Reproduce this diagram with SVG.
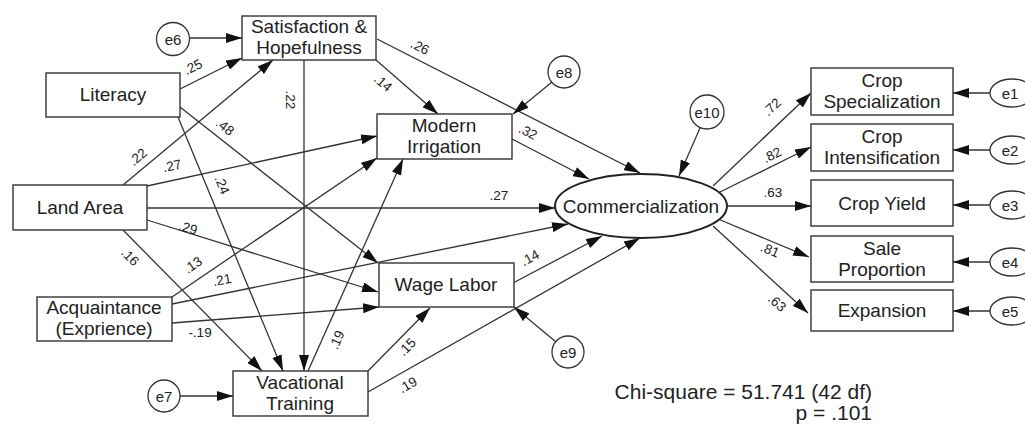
<svg xmlns="http://www.w3.org/2000/svg" width="1025" height="426" viewBox="0 0 1025 426">
<style>
.box{fill:#fff;stroke:#333;stroke-width:1.4}
.t{font-family:"Liberation Sans",Arial,sans-serif;font-size:19px;fill:#222;text-anchor:middle}
.e{fill:#fff;stroke:#333;stroke-width:1.3}
.et{font-family:"Liberation Sans",Arial,sans-serif;font-size:15px;fill:#222;text-anchor:middle;dominant-baseline:central}
#connectors path{fill:none;stroke:#333;stroke-width:1.3;marker-end:url(#a)}
.l{font-family:"Liberation Sans",Arial,sans-serif;font-size:13.5px;fill:#222;text-anchor:middle;dominant-baseline:central}
.fit{font-family:"Liberation Sans",Arial,sans-serif;font-size:21px;fill:#222;text-anchor:end}
</style>
<defs>
<marker id="a" viewBox="0 0 16 10" refX="16" refY="5" markerWidth="16" markerHeight="10" orient="auto" markerUnits="userSpaceOnUse"><path d="M0,0 L16,5 L0,10 z" fill="#111"/></marker>
</defs>
<rect width="1025" height="426" fill="#fff"/>
<g id="connectors">
<path d="M190,38 L242,38"/>
<path d="M180,89 L242,58"/>
<path d="M123,185 L273,60"/>
<path d="M180,107 L378,263"/>
<path d="M178,117 L283,371"/>
<path d="M123,230 L262,371"/>
<path d="M304,60 L304,371"/>
<path d="M147,186 L377,136"/>
<path d="M147,208 L555,208"/>
<path d="M147,220 L378,292"/>
<path d="M172,297 L377,158"/>
<path d="M172,304 L568,224"/>
<path d="M172,323 L379,307"/>
<path d="M308,371 L403,159"/>
<path d="M368,371 L430,308"/>
<path d="M368,392 L640,238"/>
<path d="M513,283 L602,236"/>
<path d="M556,342 L514,307"/>
<path d="M376,60 L438,114"/>
<path d="M377,39 L640,173"/>
<path d="M512,139 L589,179"/>
<path d="M552,82 L513,114"/>
<path d="M700,128 L679,176"/>
<path d="M180,396 L233,396"/>
<path d="M713,186 L811,93"/>
<path d="M718,193 L811,147"/>
<path d="M727,206 L811,206"/>
<path d="M718,219 L809,257"/>
<path d="M713,226 L808,313"/>
<path d="M990,93 L953,93"/>
<path d="M990,150 L953,150"/>
<path d="M990,205 L953,205"/>
<path d="M990,262 L953,262"/>
<path d="M990,311 L953,311"/>
<g id="edge-labels">
<text class="l" transform="translate(193,67) rotate(-27)">.25</text>
<text class="l" transform="translate(138,157) rotate(-40)">.22</text>
<text class="l" transform="translate(225,127) rotate(38)">.48</text>
<text class="l" transform="translate(222,185) rotate(67)">.24</text>
<text class="l" transform="translate(130,257) rotate(45)">.16</text>
<text class="l" transform="translate(290,100) rotate(90)">.22</text>
<text class="l" transform="translate(172,166) rotate(-12)">.27</text>
<text class="l" transform="translate(499,195)">.27</text>
<text class="l" transform="translate(188,228) rotate(17)">.29</text>
<text class="l" transform="translate(193,265) rotate(-34)">.13</text>
<text class="l" transform="translate(222,280) rotate(-11)">.21</text>
<text class="l" transform="translate(200,332)">-.19</text>
<text class="l" transform="translate(337,340) rotate(-66)">.19</text>
<text class="l" transform="translate(407,347) rotate(-45)">.15</text>
<text class="l" transform="translate(408,385) rotate(-30)">.19</text>
<text class="l" transform="translate(530,258) rotate(-28)">.14</text>
<text class="l" transform="translate(383,83) rotate(41)">.14</text>
<text class="l" transform="translate(420,47) rotate(27)">.26</text>
<text class="l" transform="translate(528,132) rotate(27)">.32</text>
<text class="l" transform="translate(772,107) rotate(-43)">.72</text>
<text class="l" transform="translate(772,155) rotate(-26)">.82</text>
<text class="l" transform="translate(773,192)">.63</text>
<text class="l" transform="translate(770,250) rotate(23)">.81</text>
<text class="l" transform="translate(777,303) rotate(42)">.63</text>
</g>
</g>
<g id="satisfaction"><rect class="box" x="242" y="16" width="134" height="44"/><text class="t" x="309" y="33">Satisfaction &amp;</text><text class="t" x="309" y="54">Hopefulness</text></g>
<g id="literacy"><rect class="box" x="46" y="73" width="134" height="44"/><text class="t" x="113" y="101">Literacy</text></g>
<g id="land-area"><rect class="box" x="13" y="185" width="134" height="45"/><text class="t" x="80" y="214">Land Area</text></g>
<g id="acquaintance"><rect class="box" x="37" y="297" width="135" height="44"/><text class="t" x="104" y="314">Acquaintance</text><text class="t" x="104" y="335">(Exprience)</text></g>
<g id="vacational"><rect class="box" x="233" y="371" width="135" height="45"/><text class="t" x="300" y="389">Vacational</text><text class="t" x="300" y="410">Training</text></g>
<g id="modern-irrigation"><rect class="box" x="377" y="114" width="135" height="45"/><text class="t" x="444" y="132">Modern</text><text class="t" x="444" y="153">Irrigation</text></g>
<g id="wage-labor"><rect class="box" x="379" y="263" width="135" height="44"/><text class="t" x="446" y="291">Wage Labor</text></g>
<g id="commercialization"><ellipse cx="641" cy="206" rx="86" ry="32" fill="#fff" stroke="#222" stroke-width="2"/><text class="t" x="641" y="213">Commercialization</text></g>
<g id="crop-specialization"><rect class="box" x="811" y="68" width="142" height="47"/><text class="t" x="882" y="87">Crop</text><text class="t" x="882" y="108">Specialization</text></g>
<g id="crop-intensification"><rect class="box" x="811" y="124" width="142" height="47"/><text class="t" x="882" y="143">Crop</text><text class="t" x="882" y="164">Intensification</text></g>
<g id="crop-yield"><rect class="box" x="811" y="180" width="142" height="46"/><text class="t" x="882" y="210">Crop Yield</text></g>
<g id="sale-proportion"><rect class="box" x="811" y="236" width="142" height="46"/><text class="t" x="882" y="255">Sale</text><text class="t" x="882" y="276">Proportion</text></g>
<g id="expansion"><rect class="box" x="811" y="290" width="142" height="41"/><text class="t" x="882" y="317">Expansion</text></g>
<g id="e6"><circle class="e" cx="173" cy="39" r="16.5"/><text class="et" x="173" y="39">e6</text></g>
<g id="e7"><circle class="e" cx="164" cy="396" r="16"/><text class="et" x="164" y="396">e7</text></g>
<g id="e8"><circle class="e" cx="564" cy="72" r="16"/><text class="et" x="564" y="72">e8</text></g>
<g id="e9"><circle class="e" cx="568" cy="352" r="16"/><text class="et" x="568" y="352">e9</text></g>
<g id="e10"><circle class="e" cx="707" cy="112" r="17"/><text class="et" x="707" y="112">e10</text></g>
<g id="e1"><ellipse class="e" cx="1012" cy="93" rx="22" ry="14"/><text class="et" x="1010" y="93">e1</text></g>
<g id="e2"><ellipse class="e" cx="1012" cy="150" rx="22" ry="14"/><text class="et" x="1010" y="150">e2</text></g>
<g id="e3"><ellipse class="e" cx="1012" cy="205" rx="22" ry="14"/><text class="et" x="1010" y="205">e3</text></g>
<g id="e4"><ellipse class="e" cx="1012" cy="262" rx="22" ry="14"/><text class="et" x="1010" y="262">e4</text></g>
<g id="e5"><ellipse class="e" cx="1012" cy="311" rx="22" ry="14"/><text class="et" x="1010" y="311">e5</text></g>
<g id="fit-stats"><text class="fit" x="872" y="399">Chi-square = 51.741 (42 df)</text><text class="fit" x="872" y="420">p = .101</text></g>
</svg>
